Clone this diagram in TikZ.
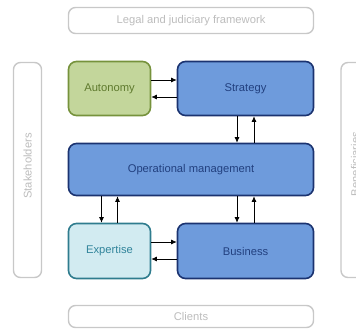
\documentclass[tikz,border=0pt]{standalone}
\usepackage{fontspec}
\setmainfont{Liberation Sans}
\usetikzlibrary{arrows.meta}
\definecolor{grayline}{HTML}{C8C8C8}
\definecolor{graytext}{HTML}{BDBDBD}
\definecolor{greenfill}{HTML}{C3D69B}
\definecolor{greenline}{HTML}{76923C}
\definecolor{greentext}{HTML}{5F7A2E}
\definecolor{bluefill}{HTML}{6E9BDC}
\definecolor{blueline}{HTML}{1B3370}
\definecolor{bluetext}{HTML}{22407F}
\definecolor{cyanfill}{HTML}{D2EBF1}
\definecolor{cyanline}{HTML}{2F7C8E}
\definecolor{cyantext}{HTML}{31849B}
\tikzset{
  lbl/.style={font=\fontsize{11.2}{13}\selectfont},
  ctx/.style={draw=grayline, line width=1.4pt, rounded corners=7pt, fill=white, text=graytext, lbl, inner sep=0pt},
  box/.style={line width=1.6pt, rounded corners=8pt, inner sep=0pt, lbl},
  greenbox/.style={box, draw=greenline, fill=greenfill, text=greentext},
  bluebox/.style={box, draw=blueline, fill=bluefill, text=bluetext},
  cyanbox/.style={box, draw=cyanline, fill=cyanfill, text=cyantext},
  arr/.style={line width=0.8pt, -{Latex[length=5.5pt,width=5pt]}}
}
\begin{document}
\begin{tikzpicture}[x=1pt,y=-1pt]
\useasboundingbox (0,0) rectangle (356,330);
\node[ctx, minimum width=245pt, minimum height=26pt] (legal) at (191,20.5) {Legal and judiciary framework};
\node[ctx, minimum width=245pt, minimum height=22pt] (clients) at (191,316.5) {Clients};
\node[ctx, minimum width=28pt, minimum height=215pt] (stake) at (27.5,170) {};
\node[text=graytext, lbl, rotate=90, inner sep=0pt] (stakelabel) at ([yshift=4pt]stake.center) {Stakeholders};
\node[ctx, minimum width=28pt, minimum height=215pt] (bene) at (355,170) {};
\node[text=graytext, lbl, rotate=90, inner sep=0pt] (benelabel) at ([xshift=0pt,yshift=6pt]bene.center) {Beneficiaries};

\node[greenbox, minimum width=82pt, minimum height=54pt] (aut) at (109.5,88.5) {Autonomy};
\node[bluebox, minimum width=136pt, minimum height=54pt] (str) at (245.5,88.5) {Strategy};
\node[bluebox, minimum width=245pt, minimum height=52pt] (op) at (191,169.5) {Operational management};
\node[cyanbox, minimum width=82pt, minimum height=55pt] (exp) at (109.5,251) {Expertise};
\node[bluebox, minimum width=136pt, minimum height=55pt] (bus) at (245.5,251) {Business};

\draw[arr] ([yshift=8.5pt]aut.east) -- ([yshift=8.5pt]aut.east -| str.west);
\draw[arr] ([yshift=-8.5pt]str.west) -- ([yshift=-8.5pt]str.west -| aut.east);
\draw[arr] ([xshift=-8.5pt]str.south) -- ([xshift=-8.5pt]str.south |- op.north);
\draw[arr] ([xshift=8.5pt]str.south |- op.north) -- ([xshift=8.5pt]str.south);
\draw[arr] ([xshift=-8pt]exp.north |- op.south) -- ([xshift=-8pt]exp.north);
\draw[arr] ([xshift=8pt]exp.north) -- ([xshift=8pt]exp.north |- op.south);
\draw[arr] ([xshift=-8.5pt]bus.north |- op.south) -- ([xshift=-8.5pt]bus.north);
\draw[arr] ([xshift=8.5pt]bus.north) -- ([xshift=8.5pt]bus.north |- op.south);
\draw[arr] ([yshift=9pt]exp.east) -- ([yshift=9pt]exp.east -| bus.west);
\draw[arr] ([yshift=-8pt]bus.west) -- ([yshift=-8pt]bus.west -| exp.east);
\end{tikzpicture}
\end{document}
